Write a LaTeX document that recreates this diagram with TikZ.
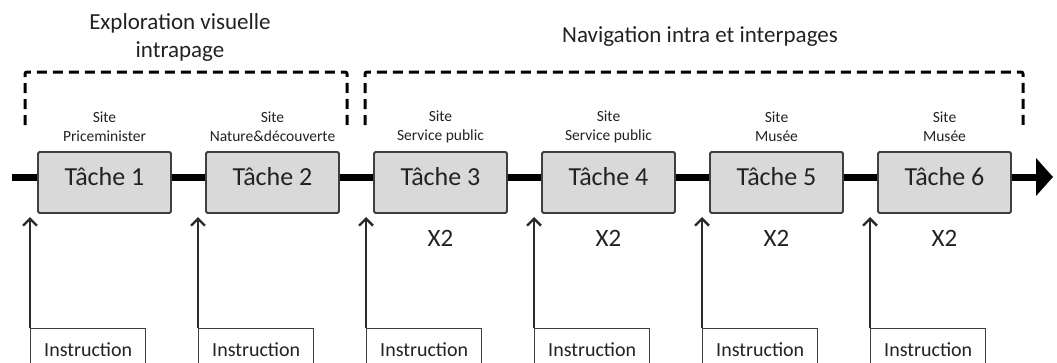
\documentclass[tikz,border=0pt]{standalone}
\usepackage{fontspec}
\setmainfont{Carlito}
\usetikzlibrary{arrows.meta}
\definecolor{boxfill}{HTML}{D9D9D9}
\definecolor{boxline}{HTML}{3F3F3F}
\definecolor{arrline}{HTML}{2A2A2A}
\definecolor{txt}{HTML}{222222}
\begin{document}
\begin{tikzpicture}[x=1pt,y=-1pt,
  taskbox/.style={draw=boxline,fill=boxfill,line width=1.8pt,rounded corners=1.5pt,minimum width=133pt,minimum height=61pt,inner sep=0pt},
  tasklbl/.style={font=\fontsize{26}{30}\selectfont,text=txt,inner sep=0pt},
  sitelbl/.style={font=\fontsize{15.5}{19}\selectfont,align=center,text=txt,inner sep=0pt},
  repeatlbl/.style={font=\fontsize{25}{30}\selectfont,text=txt,inner sep=0pt},
  titlelbl/.style={font=\fontsize{23}{28}\selectfont,align=center,text=txt,inner sep=0pt},
  instbox/.style={draw=boxline,fill=white,line width=1.4pt,minimum width=115pt,minimum height=42pt,anchor=north west,inner sep=0pt,font=\fontsize{20}{24}\selectfont,text=txt},
  instarrow/.style={draw=arrline,line width=2.4pt,-{Straight Barb[length=7pt,width=14pt]}},
  groupline/.style={draw=black,line width=3pt,dash pattern=on 10pt off 6pt,rounded corners=2pt},
  mainline/.style={draw=black,line width=7pt,-{Triangle[length=17pt,width=37pt]}}
]
\clip (0,0) rectangle (1057,362);
% main timeline
\coordinate (s) at (12,177);
\coordinate (e) at (1053,177);
\draw[mainline] (s) -- (e);
% group brackets
\coordinate (g1a) at (25,125);
\coordinate (g1b) at (347,125);
\coordinate (g2a) at (365,125);
\coordinate (g2b) at (1023,125);
\draw[groupline] (g1a) -- (25,72) -- (347,72) -- (g1b);
\draw[groupline] (g2a) -- (365,72) -- (1023,72) -- (g2b);
\node[titlelbl] (title1) at (180,37) {Exploration visuelle\\intrapage};
\node[titlelbl] (title2) at (700,37) {Navigation intra et interpages};
% tasks
\foreach \i/\site in {1/Priceminister,2/Nature\&découverte,3/Service public,4/Service public,5/Musée,6/Musée}{
  \pgfmathsetmacro{\cx}{104.5+168*(\i-1)}
  \pgfmathsetmacro{\ax}{30+168*(\i-1)}
  \node[taskbox] (t\i) at (\cx,182.5) {};
  \node[tasklbl] (tl\i) at (\cx,177) {Tâche \i};
  \node[sitelbl] (site\i) at (\cx,127) {Site\\\site};
  \node[instbox] (ins\i) at (\ax,328) {Instruction};
  \coordinate (a\i) at (\ax,217);
  \draw[instarrow] (ins\i.north west) -- (a\i);
}
\foreach \i in {3,...,6}{
  \pgfmathsetmacro{\cx}{104.5+168*(\i-1)}
  \node[repeatlbl] (rep\i) at (\cx,238) {X2};
}
\end{tikzpicture}
\end{document}
